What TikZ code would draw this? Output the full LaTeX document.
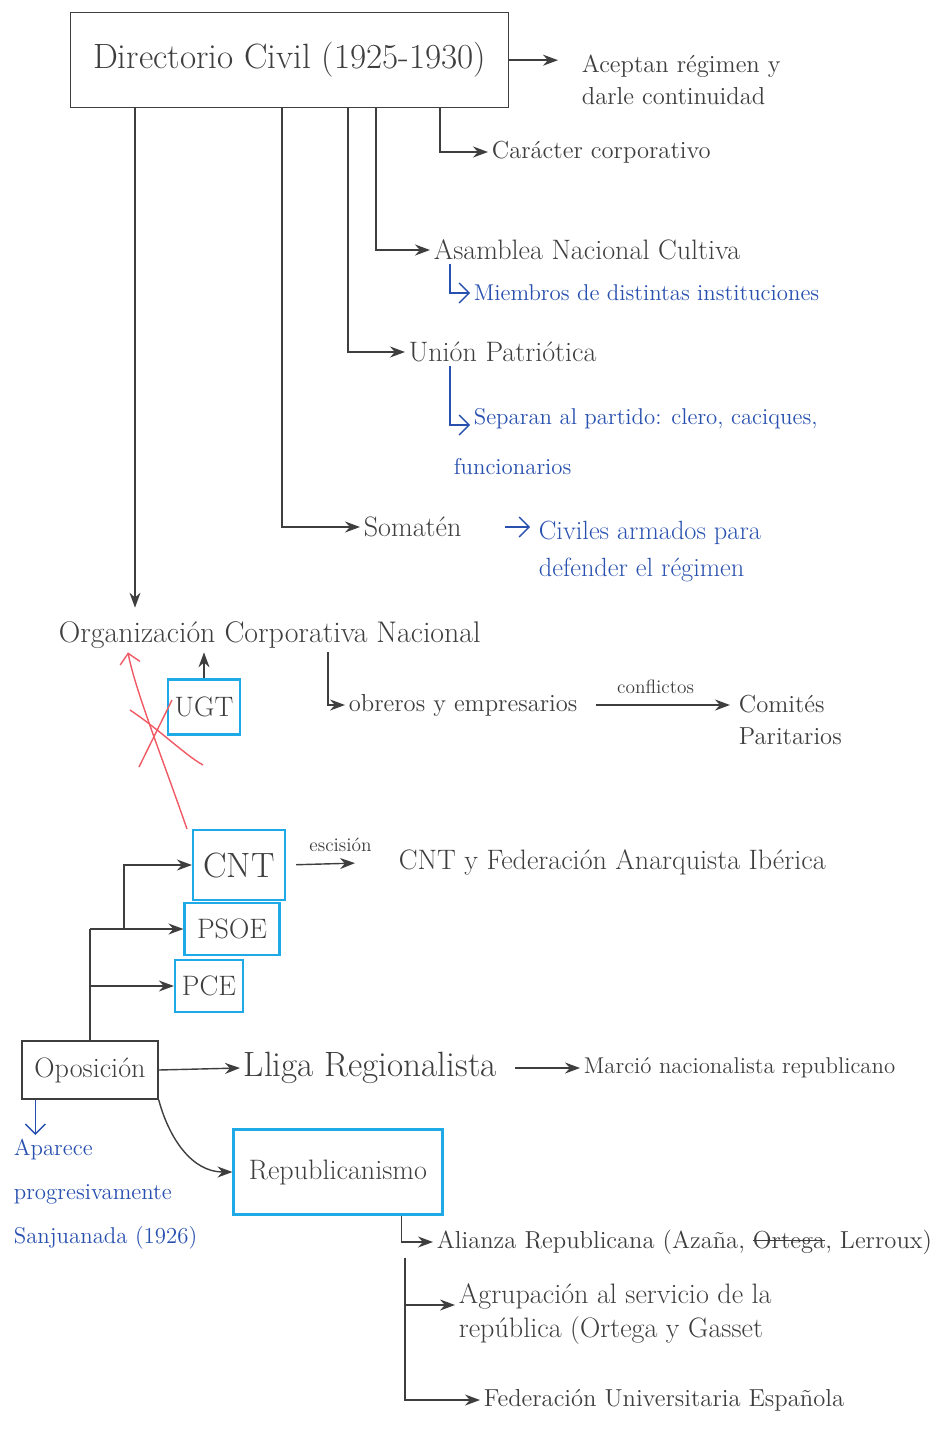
\documentclass[tikz,border=0pt]{standalone}
\usepackage{fontspec}
\usetikzlibrary{arrows.meta,positioning}
\definecolor{inkgray}{RGB}{62,62,62}
\definecolor{inkblue}{RGB}{40,80,175}
\definecolor{boxcyan}{RGB}{30,170,230}
\definecolor{inkred}{RGB}{240,90,100}
\newcommand{\tachar}[1]{\setbox0\hbox{#1}\rlap{\rule[0.3em]{\wd0}{0.7pt}}#1}

\begin{document}
\begin{tikzpicture}[x=0.02cm,y=-0.02cm,font=\fontsize{16}{19}\selectfont,
   every node/.style={text=inkgray},
   b/.style={draw=inkgray,thick,inner sep=6pt},
   c/.style={draw=boxcyan,very thick,inner sep=4pt},
   t/.style={anchor=west,inner sep=2pt,align=left},
   m/.style={t,font=\fontsize{14}{18}\selectfont},
   n/.style={t,text=inkblue,font=\fontsize{13}{19}\selectfont},
   a/.style={draw=inkgray,thick,-{Stealth[length=3mm,width=2.2mm]}},
   na/.style={draw=inkblue,thick,-{Straight Barb[length=2mm]}}]
  \useasboundingbox (0,0) rectangle (946,1440);

  \node[b,anchor=north west,minimum width=8.76cm,minimum height=1.9cm,font=\fontsize{20}{22}\selectfont] (dir) at (70,12) {Directorio Civil (1925-1930)};
  \node[m] (acep) at (578,80) {Aceptan régimen y\\darle continuidad};
  \draw[a] (dir.east) -- ([xshift=-4mm]dir.east -| acep.west);
  \node[m] (car) at (488,152) {Carácter corporativo};
  \draw[a] (dir.south west) ++(370,0) |- (car.west);

  \node[t] (asam) at (430,250) {Asamblea Nacional Cultiva};
  \draw[a] (dir.south west) ++(306,0) |- (asam.west);
  \node[n] (miem) at (470,293) {Miembros de distintas instituciones};
  \draw[na] ([xshift=4mm]asam.south west) |- (miem.west);

  \node[t] (uni) at (405,352) {Unión Patriótica};
  \draw[a] (dir.south west) ++(278,0) |- (uni.west);
  \node[n,anchor=north west,font=\fontsize{13}{28}\selectfont] (sep) at (470,405) {Separan al partido: clero, caciques,\\\hspace*{-4mm}funcionarios};
  \draw[na] ([xshift=9mm]uni.south west) |- ([yshift=-4mm]sep.north west);

  \node[t] (soma) at (360,527) {Somatén};
  \draw[a] (dir.south west) ++(212,0) |- (soma.west);
  \node[n,anchor=north west,font=\fontsize{15}{21}\selectfont] (civ) at (535,517) {Civiles armados para\\defender el régimen};
  \draw[na] ([xshift=8mm]soma.east) -- ([xshift=-1mm]soma.east -| civ.west);

  \node[t,font=\fontsize{17}{20}\selectfont] (org) at (55,635) {Organización Corporativa Nacional};
  \draw[a,shorten >=2mm] (dir.south west) ++(65,0) coordinate (o1) -- (o1 |- org.north);
  \node[m] (obr) at (345,705) {obreros y empresarios};
  \draw[a] ([xshift=5.46cm]org.south west) |- (obr.west);
  \node[m] (com) at (735,720) {Comités\\Paritarios};
  \draw[a,shorten <=3mm] (obr.east) -- node[above=1mm,font=\fontsize{11}{13}\selectfont] {conflictos} ([xshift=-1mm]obr.east -| com.west);

  \node[c,minimum width=1.45cm,minimum height=1.1cm] (ugt) at (204,707) {UGT};
  \draw[a] (ugt.north) -- (ugt.north |- org.south);

  \node[c,font=\fontsize{20}{22}\selectfont,minimum width=1.84cm,minimum height=1.4cm] (cnt) at (239,865) {CNT};
  \node[c,minimum width=1.9cm,minimum height=1.04cm] (psoe) at (232,929) {PSOE};
  \node[c,minimum width=1.24cm,minimum height=1.04cm] (pce) at (209,986) {PCE};
  \node[t] (fai) at (395,862) {CNT y Federación Anarquista Ibérica};
  \draw[a,shorten <=2mm,shorten >=8mm] (cnt.east) -- node[above=1mm,font=\fontsize{11}{13}\selectfont] {escisión} (fai.west);

  \draw[inkred,thick,-{Straight Barb[length=2mm]}] ([xshift=-1mm]cnt.north west) .. controls (165,765) and (135,690) .. ([xshift=1.46cm]org.south west);
  \draw[inkred,thick] (130,710) .. controls (160,730) and (185,755) .. (203,765);
  \draw[inkred,thick] (172,700) -- (139,767);

  \node[b,minimum width=2.72cm,minimum height=1.16cm] (opo) at (90,1070) {Oposición};
  \draw[thick,inkgray] (opo.north) -- (opo.north |- psoe.west) coordinate (j);
  \draw[a] (j) -- (psoe.west);
  \draw[a] (j) ++(34,0) |- (cnt.west);
  \draw[a] (opo.north |- pce.west) -- (pce.west);

  \node[t,font=\fontsize{20}{22}\selectfont] (lli) at (240,1068) {Lliga Regionalista};
  \draw[a] (opo.east) -- (lli.west);
  \node[t,font=\fontsize{13}{16}\selectfont] (acc) at (580,1068) {Marció nacionalista republicano};
  \draw[a,shorten <=3mm] (lli.east) -- (acc.west);

  \node[n,anchor=north west,font=\fontsize{13}{25}\selectfont] (apa) at (10,1135) {Aparece\\progresivamente\\Sanjuanada (1926)};
  \draw[na] (opo.south west) ++(14,0) coordinate (o2) -- (o2 |- apa.north);

  \node[c,minimum width=4.18cm,minimum height=1.7cm] (rep) at (338,1172) {Republicanismo};
  \draw[a] (opo.south east) to[out=-75,in=180] (rep.west);

  \node[m] (ali) at (433,1242) {Alianza Republicana (Azaña, \tachar{Ortega}, Lerroux)};
  \draw[a] (rep.south east) ++(-42,0) |- (ali.west);
  \coordinate (v) at (405,1258);
  \node[t,anchor=north west] (agr) at (455,1280) {Agrupación al servicio de la\\república (Ortega y Gasset};
  \node[m] (fed) at (480,1400) {Federación Universitaria Española};
  \draw[a] (v) |- ([yshift=-5mm]agr.north west);
  \draw[a] (v) |- (fed.west);
\end{tikzpicture}
\end{document}
